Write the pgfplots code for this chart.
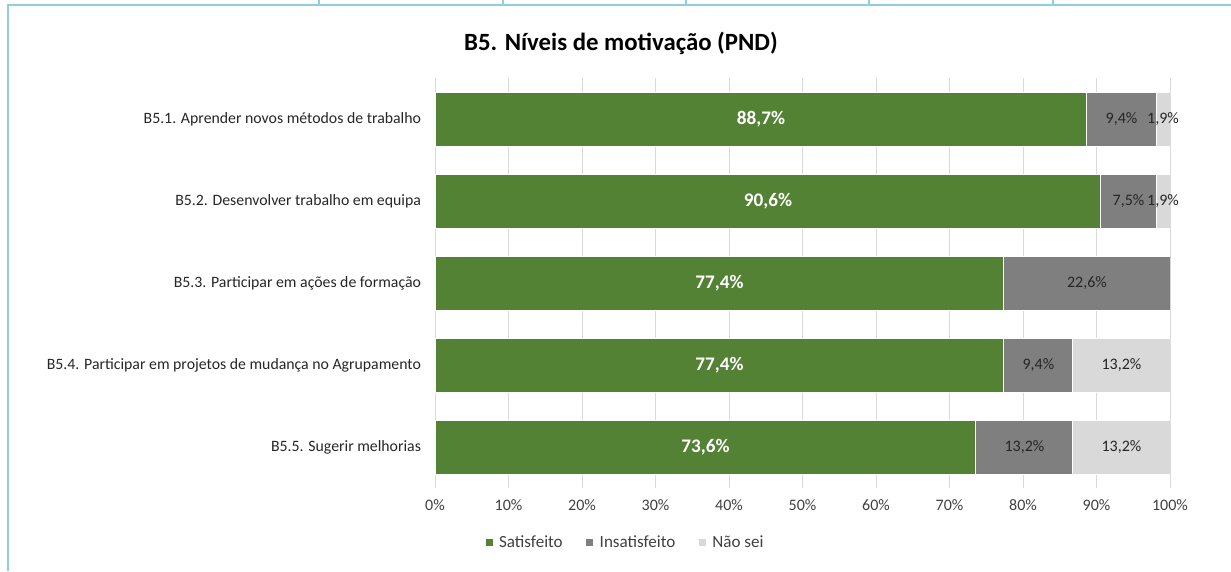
\documentclass[border=0pt]{standalone}
\usepackage{pgfplots}
\pgfplotsset{compat=1.18}
\usepackage{fontspec}
\setmainfont{Carlito}
\definecolor{sat}{HTML}{548235}
\definecolor{ins}{HTML}{7F7F7F}
\definecolor{nao}{HTML}{D9D9D9}
\definecolor{brd}{HTML}{92CDDC}
\definecolor{txt}{HTML}{404040}
\definecolor{lbl}{HTML}{262626}
\definecolor{grd}{HTML}{D9D9D9}
\begin{document}
\begin{tikzpicture}
\begin{scope}[x=0.75pt,y=0.75pt]
\path[use as bounding box] (0,0) rectangle (1231,571);
\draw[brd, line width=1.5pt] (7.5,0) -- (7.5,566) -- (1231,566);
\foreach \x in {319,503,686,869,1053} \draw[brd,line width=1.5pt] (\x,566) -- (\x,571);
\node[font=\bfseries\fontsize{18.6}{22}\selectfont, text=black, anchor=base] at (621,520) {B5. Níveis de motivação (PND)};
\end{scope}
\pgfplotsset{base/.style={
  at={(326.25pt,62.25pt)}, anchor=south west,
  width=551.25pt, height=307.5pt, scale only axis,
  xmin=0, xmax=100, ymin=0.5, ymax=5.5, y dir=reverse}}
\begin{axis}[base,
  xbar stacked, bar width=40.5pt,
  xtick={0,10,20,30,40,50,60,70,80,90,100},
  xticklabels={0\%,10\%,20\%,30\%,40\%,50\%,60\%,70\%,80\%,90\%,100\%},
  ytick={1,2,3,4,5},
  yticklabels={B5.1. Aprender novos métodos de trabalho,
               B5.2. Desenvolver trabalho em equipa,
               B5.3. Participar em ações de formação,
               B5.4. Participar em projetos de mudança no Agrupamento,
               B5.5. Sugerir melhorias},
  xmajorgrids, grid style={grd, line width=0.75pt},
  axis line style={draw=none}, major tick length=0pt,
  tick label style={font=\fontsize{12}{14}\selectfont, text=txt},
  yticklabel style={xshift=-7pt, text=lbl, font=\fontsize{11.85}{14}\selectfont},
  xticklabel style={yshift=-5pt},
  legend style={at={(0.261,-0.134)}, anchor=center, draw=none, fill=none,
    legend columns=3, font=\fontsize{12.8}{15}\selectfont, text=txt,
    nodes={inner xsep=4pt},
    /tikz/every even column/.append style={column sep=13pt}},
  legend image code/.code={\fill[#1] (0pt,-3pt) rectangle (6pt,3pt);},
  every axis plot/.append style={draw=white, line width=0.75pt},
]
\addplot[fill=sat, draw=white] coordinates {(88.7,1) (90.6,2) (77.4,3) (77.4,4) (73.6,5)};
\addplot[fill=ins, draw=white] coordinates {(9.4,1) (7.5,2) (22.6,3) (9.4,4) (13.2,5)};
\addplot[fill=nao, draw=white] coordinates {(1.9,1) (1.9,2) (0,3) (13.2,4) (13.2,5)};
\legend{Satisfeito, Insatisfeito, Não sei}
\end{axis}
\begin{axis}[base, hide axis]
\addplot[only marks, mark=none, point meta=explicit symbolic,
  nodes near coords={\pgfplotspointmeta\%},
  every node near coord/.style={anchor=center, text=white, font=\bfseries\fontsize{14.4}{16}\selectfont}]
  table[meta=lab] {
x y lab
44.35 1 88,7
45.3 2 90,6
38.7 3 77,4
38.7 4 77,4
36.8 5 73,6
};
\addplot[only marks, mark=none, point meta=explicit symbolic,
  nodes near coords={\pgfplotspointmeta\%},
  every node near coord/.style={anchor=center, text=lbl, font=\fontsize{12}{14}\selectfont}]
  table[meta=lab] {
x y lab
93.4 1 9,4
94.35 2 7,5
88.7 3 22,6
82.1 4 9,4
80.2 5 13,2
99.05 1 1,9
99.05 2 1,9
93.4 4 13,2
93.4 5 13,2
};
\end{axis}
\end{tikzpicture}
\end{document}
